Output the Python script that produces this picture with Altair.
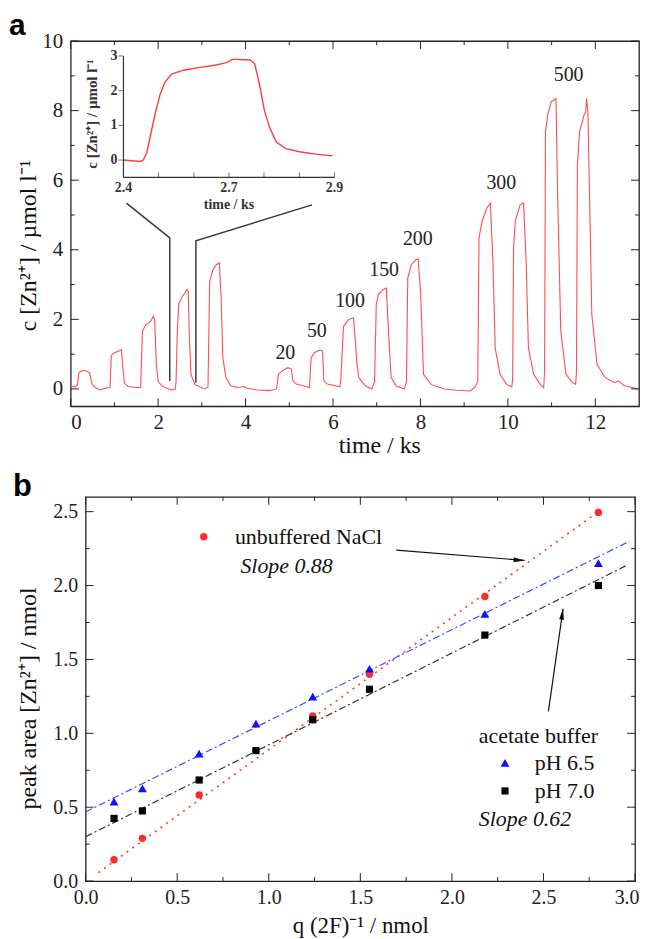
import altair as alt
import pandas as pd

FONT = "Liberation Serif"

# ---------------- panel a: detector trace ----------------
trace_t = [0.00, 0.11, 0.15, 0.19, 0.26, 0.37, 0.43, 0.49, 0.56, 0.67, 0.82, 0.90,
           0.93, 1.00, 1.12, 1.16, 1.20, 1.23, 1.31, 1.49, 1.60,
           1.64, 1.72, 1.83, 1.89, 1.92, 1.96, 2.00, 2.09, 2.20, 2.32, 2.39,
           2.41, 2.44, 2.47, 2.54, 2.62, 2.66, 2.69, 2.71, 2.75, 2.84, 2.95, 3.06,
           3.14, 3.18, 3.25, 3.33, 3.40, 3.44, 3.48, 3.55, 3.66, 3.81, 3.96, 4.04,
           4.26, 4.56, 4.71,
           4.75, 4.86, 4.97, 5.05, 5.08, 5.16, 5.31, 5.46,
           5.50, 5.57, 5.68, 5.76, 5.79, 5.87, 6.05, 6.16,
           6.18, 6.24, 6.36, 6.47, 6.55, 6.59, 6.74, 6.89,
           6.95, 6.99, 7.04, 7.15, 7.22, 7.27, 7.33, 7.44, 7.63,
           7.68, 7.71, 7.79, 7.90, 7.95, 8.01, 8.07, 8.24, 8.54, 8.84, 9.14, 9.25,
           9.31, 9.34, 9.41, 9.52, 9.60, 9.66, 9.71, 9.82, 9.97, 10.09,
           10.11, 10.13, 10.17, 10.28, 10.36, 10.42, 10.47, 10.59, 10.74, 10.82,
           10.84, 10.86, 10.91, 10.99, 11.10, 11.14, 11.21, 11.33, 11.48, 11.55,
           11.57, 11.59, 11.64, 11.74, 11.78, 11.80, 11.83, 11.87, 11.92, 12.04,
           12.22, 12.44, 12.52, 12.67, 12.99]
trace_c = [0.08, 0.06, 0.10, 0.47, 0.53, 0.51, 0.47, 0.13, 0.04, -0.03, 0.03, 0.04,
           0.97, 1.04, 1.10, 1.13, 0.50, 0.17, 0.07, 0.04, 0.04,
           1.66, 1.85, 1.94, 2.09, 1.99, 0.70, 0.22, 0.08, 0.02, -0.03, -0.02,
           0.20, 1.70, 2.45, 2.62, 2.78, 2.86, 2.80, 1.66, 0.42, 0.13, 0.06, 0.00,
           0.05, 3.09, 3.42, 3.57, 3.62, 2.62, 0.90, 0.33, 0.09, 0.04, 0.07, 0.02,
           -0.03, -0.05, 0.00,
           0.42, 0.54, 0.61, 0.57, 0.24, 0.14, 0.09, 0.04,
           0.90, 1.04, 1.11, 1.09, 0.24, 0.14, 0.09, 0.06,
           0.30, 1.80, 2.00, 2.04, 0.71, 0.33, 0.09, 0.00,
           0.20, 2.45, 2.72, 2.86, 2.90, 1.66, 0.33, 0.09, 0.00,
           0.20, 3.19, 3.57, 3.72, 3.73, 2.62, 0.42, 0.13, 0.00, -0.04, -0.06, 0.06,
           0.20, 4.34, 4.82, 5.20, 5.34, 3.57, 1.18, 0.42, 0.13, 0.06,
           0.30, 4.05, 4.82, 5.30, 5.34, 3.57, 1.18, 0.42, 0.13, 0.04,
           0.50, 7.39, 7.87, 8.25, 8.35, 5.47, 1.66, 0.42, 0.18, 0.13,
           0.50, 6.44, 7.39, 7.87, 7.96, 8.35, 7.96, 5.47, 2.14, 0.71,
           0.33, 0.18, 0.23, 0.09, 0.00]

peak_label_t = [4.91, 5.63, 6.39, 7.17, 7.94, 9.85, 11.39]
peak_label_c = [1.03, 1.66, 2.52, 3.43, 4.30, 5.93, 9.02]
peak_label_text = ["20", "50", "100", "150", "200", "300", "500"]

# zoom connector lines (main coordinates)
conn_t = [1.274, 2.266, 2.266, 5.52, 2.864, 2.864]
conn_c = [5.34, 4.34, 0.23, 5.29, 4.26, 0.18]
conn_id = [0, 0, 0, 1, 1, 1]
conn_order = [0, 1, 2, 0, 1, 2]

a_x_major = [0, 2, 4, 6, 8, 10, 12]
a_x_minor = [1, 3, 5, 7, 9, 11]
a_y_major = [0, 2, 4, 6, 8, 10]
a_y_minor = [1, 3, 5, 7, 9]

# inset trace
inset_t = [2.400, 2.420, 2.440, 2.447, 2.455, 2.463, 2.475, 2.487, 2.498, 2.514,
           2.542, 2.581, 2.620, 2.644, 2.660, 2.683, 2.699, 2.711, 2.722, 2.734,
           2.746, 2.762, 2.785, 2.817, 2.856, 2.895]
inset_c = [0.00, -0.02, -0.04, 0.00, 0.20, 0.65, 1.33, 1.90, 2.24, 2.48,
           2.59, 2.67, 2.74, 2.81, 2.91, 2.89, 2.89, 2.78, 2.20, 1.43,
           0.95, 0.52, 0.33, 0.24, 0.17, 0.12]
inset_x_range = [2.4, 2.9]
inset_y_range = [-0.5, 3.0]
inset_y_ticks = [0, 1, 2, 3]
inset_x_ticks = [2.4, 2.483, 2.567, 2.65, 2.733, 2.817, 2.9]
inset_x_label_pos = [2.4, 2.65, 2.9]
inset_x_label_text = ["2.4", "2.7", "2.9"]

# ---------------- panel b: calibration ----------------
b_q = [0.155, 0.31, 0.62, 0.93, 1.24, 1.55, 2.18, 2.80]
b_nacl = [0.144, 0.289, 0.583, 0.883, 1.118, 1.400, 1.926, 2.495]
b_ph65 = [0.538, 0.627, 0.863, 1.065, 1.249, 1.437, 1.809, 2.152]
b_ph70 = [0.424, 0.475, 0.684, 0.883, 1.092, 1.298, 1.665, 2.000]

fit_nacl_q = [0.07, 2.80]
fit_nacl_y = [0.057, 2.50]
fit_ph65_q = [0.0, 2.97]
fit_ph65_y = [0.468, 2.30]
fit_ph70_q = [0.0, 2.96]
fit_ph70_y = [0.30, 2.14]

arrow1_q = [1.696, 2.397]
arrow1_y = [2.24, 2.17]
arrow2_q = [2.527, 2.607]
arrow2_y = [1.148, 1.843]

b_x_major = [0.0, 0.5, 1.0, 1.5, 2.0, 2.5, 3.0]
b_x_minor = [0.25, 0.75, 1.25, 1.75, 2.25, 2.75]
b_y_major = [0.0, 0.5, 1.0, 1.5, 2.0, 2.5]
b_y_minor = [0.25, 0.75, 1.25, 1.75, 2.25]

# ---------------- layout ----------------
WA, HA = 571, 367
WB, HB = 552, 386

A_X = [0, 13]
A_Y = [-0.5, 10]
B_X = [0, 3]
B_Y = [0, 2.6]

# inset box in plot pixels: x 2.4 -> 53px, 2.9 -> 265px; y 3 -> 15px, -0.5 -> 137px
kx = 0.5 / (265 - 53)
ky = 3.5 / (137 - 15)
I_X = [2.4 - 53 * kx, 2.9 + (WA - 265) * kx]
I_Y = [-0.5 - (HA - 137) * ky, 3.0 + 15 * ky]

RED_TRACE = "#ff4d4d"
U = alt.Undefined


def sc(domain):
    return alt.Scale(domain=domain, nice=False, zero=False)


def X(f, domain, axis=U):
    return alt.X(f, type="quantitative", scale=sc(domain), axis=axis)


def Y(f, domain, axis=U):
    return alt.Y(f, type="quantitative", scale=sc(domain), axis=axis)


def frame_ticks(xmaj, xmin, ymaj, ymin, xdom, ydom, W, H):
    layers = []
    for vals, L in ((xmaj, 8), (xmin, 4)):
        d = pd.DataFrame({"v": vals})
        layers.append(alt.Chart(d).mark_rule(color="#222", strokeWidth=1).encode(
            x=X("v", xdom), y=alt.value(H), y2=alt.value(H - L)))
        layers.append(alt.Chart(d).mark_rule(color="#222", strokeWidth=1).encode(
            x=X("v", xdom), y=alt.value(0), y2=alt.value(L)))
    for vals, L in ((ymaj, 8), (ymin, 4)):
        d = pd.DataFrame({"v": vals})
        layers.append(alt.Chart(d).mark_rule(color="#222", strokeWidth=1).encode(
            y=Y("v", ydom), x=alt.value(0), x2=alt.value(L)))
        layers.append(alt.Chart(d).mark_rule(color="#222", strokeWidth=1).encode(
            y=Y("v", ydom), x=alt.value(W), x2=alt.value(W - L)))
    return layers


def panel_letter(s, dx, dy, size):
    return alt.Chart(pd.DataFrame({"s": [s]})).mark_text(
        font="Liberation Sans", fontSize=size, fontWeight="bold", color="#000",
        align="left", baseline="alphabetic").encode(
        x=alt.value(dx), y=alt.value(dy), text="s:N")


axis_common = dict(ticks=False, tickSize=0, domain=False, grid=False,
                   labelFont=FONT, titleFont=FONT, labelColor="#222", titleColor="#111",
                   titleFontWeight="normal")

# ---- panel a main group ----
trace_df = pd.DataFrame({"t": trace_t, "c": trace_c})
trace = alt.Chart(trace_df).mark_line(color=RED_TRACE, strokeWidth=1.1).encode(
    x=X("t", A_X, alt.Axis(values=a_x_major, format="d", labelFontSize=21, titleFontSize=24,
                           labelPadding=5, titlePadding=1, titleX=310, title="time / ks",
                           **axis_common)),
    y=Y("c", A_Y, alt.Axis(values=a_y_major, format="d", labelFontSize=21, titleFontSize=24,
                           labelPadding=8, titlePadding=1, titleY=205, title="c [Zn²⁺] / µmol l⁻¹",
                           **axis_common)),
)

conn_df = pd.DataFrame({"t": conn_t, "c": conn_c, "id": conn_id, "o": conn_order})
conn = alt.Chart(conn_df).mark_line(color="#3a3a3a", strokeWidth=1.5).encode(
    x=X("t", A_X), y=Y("c", A_Y), detail="id:N", order="o:Q")

plab_df = pd.DataFrame({"t": peak_label_t, "c": peak_label_c, "s": peak_label_text})
plab = alt.Chart(plab_df).mark_text(font=FONT, fontSize=20, color="#222", baseline="middle").encode(
    x=X("t", A_X), y=Y("c", A_Y), text="s:N")

main_a = alt.layer(trace, conn, plab, panel_letter("a", -62, -6, 30),
                   *frame_ticks(a_x_major, a_x_minor, a_y_major, a_y_minor, A_X, A_Y, WA, HA))

# ---- panel a inset group (own scales, no automatic axes) ----
N = None
inset_df = pd.DataFrame({"t": inset_t, "c": inset_c})
in_trace = alt.Chart(inset_df).mark_line(color="#ff3b3b", strokeWidth=1.4).encode(
    x=X("t", I_X, N), y=Y("c", I_Y, N))

in_left = alt.Chart(pd.DataFrame({"x": [inset_x_range[0]], "y": [inset_y_range[0]],
                                  "y2": [inset_y_range[1]]})).mark_rule(color="#333", strokeWidth=1.2).encode(
    x=X("x", I_X, N), y=Y("y", I_Y, N), y2="y2")
in_bottom = alt.Chart(pd.DataFrame({"y": [inset_y_range[0]], "x": [inset_x_range[0]],
                                    "x2": [inset_x_range[1]]})).mark_rule(color="#333", strokeWidth=1.2).encode(
    y=Y("y", I_Y, N), x=X("x", I_X, N), x2="x2")

in_yt_df = pd.DataFrame({"x": [inset_x_range[0]] * len(inset_y_ticks), "y": inset_y_ticks,
                         "s": [str(v) for v in inset_y_ticks]})
in_yticks = alt.Chart(in_yt_df).mark_tick(orient="horizontal", size=5, thickness=1, color="#333",
                                          xOffset=-2.5).encode(x=X("x", I_X, N), y=Y("y", I_Y, N))
in_ylabels = alt.Chart(in_yt_df).mark_text(font=FONT, fontSize=14, fontWeight="bold", color="#333",
                                           align="right", baseline="middle", xOffset=-6).encode(
    x=X("x", I_X, N), y=Y("y", I_Y, N), text="s:N")

in_xt_df = pd.DataFrame({"x": inset_x_ticks, "y": [inset_y_range[0]] * len(inset_x_ticks)})
in_xticks = alt.Chart(in_xt_df).mark_tick(orient="vertical", size=5, thickness=1, color="#333",
                                          yOffset=-2.5).encode(x=X("x", I_X, N), y=Y("y", I_Y, N))
in_xl_df = pd.DataFrame({"x": inset_x_label_pos, "y": [inset_y_range[0]] * 3, "s": inset_x_label_text})
in_xlabels = alt.Chart(in_xl_df).mark_text(font=FONT, fontSize=14, fontWeight="bold", color="#333",
                                           align="center", baseline="middle", yOffset=11).encode(
    x=X("x", I_X, N), y=Y("y", I_Y, N), text="s:N")

in_titles_df = pd.DataFrame({"x": [sum(inset_x_range) / 2], "y": [inset_y_range[0]], "s": ["time / ks"]})
in_xtitle = alt.Chart(in_titles_df).mark_text(font=FONT, fontSize=14, fontWeight="bold", color="#333",
                                              align="center", baseline="middle", yOffset=28).encode(
    x=X("x", I_X, N), y=Y("y", I_Y, N), text="s:N")
in_ytitle_df = pd.DataFrame({"x": [inset_x_range[0]], "y": [1.33], "s": ["c [Zn²⁺] / µmol l⁻¹"]})
in_ytitle = alt.Chart(in_ytitle_df).mark_text(font=FONT, fontSize=15, fontWeight="bold", color="#333",
                                              align="center", baseline="middle", angle=270,
                                              xOffset=-32).encode(
    x=X("x", I_X, N), y=Y("y", I_Y, N), text="s:N")

inset_group = alt.layer(in_trace, in_left, in_bottom, in_yticks, in_ylabels, in_xticks,
                        in_xlabels, in_xtitle, in_ytitle)

panel_a = alt.layer(main_a, inset_group).resolve_scale(x="independent", y="independent").properties(
    width=WA, height=HA)

# ---- panel b ----
pts_df = pd.DataFrame({"q": b_q, "nacl": b_nacl, "ph65": b_ph65, "ph70": b_ph70})

last_label = "datum.value >= 3"
pts_nacl = alt.Chart(pts_df).mark_point(shape="circle", filled=True, size=55, color="#ff2a2a", opacity=1).encode(
    x=X("q", B_X, alt.Axis(values=b_x_major, format=".1f", labelFontSize=20, titleFontSize=23,
                           labelPadding=7, titlePadding=7, title="q (2F)⁻¹ / nmol",
                           labelAlign={"condition": {"test": last_label, "value": "right"}, "value": "center"},
                           labelOffset={"condition": {"test": last_label, "value": 4}, "value": 0},
                           **axis_common)),
    y=Y("nacl", B_Y, alt.Axis(values=b_y_major, format=".1f", labelFontSize=20, titleFontSize=24,
                              labelPadding=8, titlePadding=12, titleY=202, title="peak area [Zn²⁺] / nmol",
                              **axis_common)))
pts_65 = alt.Chart(pts_df).mark_point(shape="triangle-up", filled=True, size=80, color="#1010ff", opacity=1).encode(
    x=X("q", B_X), y=Y("ph65", B_Y))
pts_70 = alt.Chart(pts_df).mark_point(shape="square", filled=True, size=52, color="#000", opacity=1).encode(
    x=X("q", B_X), y=Y("ph70", B_Y))


def fit_line(qs, ys, color, dash, w):
    d = pd.DataFrame({"q": qs, "y": ys})
    return alt.Chart(d).mark_line(color=color, strokeDash=dash, strokeWidth=w).encode(
        x=X("q", B_X), y=Y("y", B_Y))


fit1 = fit_line(fit_nacl_q, fit_nacl_y, "#ff3030", [2, 5], 1.6)
fit2 = fit_line(fit_ph65_q, fit_ph65_y, "#3050ff", [7, 3, 2, 3], 1.2)
fit3 = fit_line(fit_ph70_q, fit_ph70_y, "#333", [7, 3, 2, 3], 1.2)

ARROW = "M0,0 L-2,-0.45 L-2,0.45 Z"


def arrow(qs, ys, ang):
    d = pd.DataFrame({"q": qs, "y": ys})
    line = alt.Chart(d).mark_line(color="#111", strokeWidth=1.2).encode(x=X("q", B_X), y=Y("y", B_Y))
    head = alt.Chart(d.iloc[[-1]]).mark_point(shape=ARROW, filled=True, size=121, color="#111",
                                              angle=ang, opacity=1).encode(x=X("q", B_X), y=Y("y", B_Y))
    return [line, head]


leg_df = pd.DataFrame({"q": [0.645], "y": [2.33]})
leg_nacl = alt.Chart(leg_df).mark_point(shape="circle", filled=True, size=55, color="#ff2a2a", opacity=1).encode(
    x=X("q", B_X), y=Y("y", B_Y))
leg65 = alt.Chart(pd.DataFrame({"q": [2.29], "y": [0.80]})).mark_point(
    shape="triangle-up", filled=True, size=80, color="#1010ff", opacity=1).encode(x=X("q", B_X), y=Y("y", B_Y))
leg70 = alt.Chart(pd.DataFrame({"q": [2.29], "y": [0.61]})).mark_point(
    shape="square", filled=True, size=52, color="#000", opacity=1).encode(x=X("q", B_X), y=Y("y", B_Y))

ann_q = [0.815, 2.147, 2.453, 2.453]
ann_y = [2.33, 0.98, 0.80, 0.61]
ann_text = ["unbuffered NaCl", "acetate buffer", "pH 6.5", "pH 7.0"]
ann = alt.Chart(pd.DataFrame({"q": ann_q, "y": ann_y, "s": ann_text})).mark_text(
    font=FONT, fontSize=22, color="#111", align="left", baseline="middle").encode(
    x=X("q", B_X), y=Y("y", B_Y), text="s:N")
slope_q = [0.845, 2.147]
slope_y = [2.135, 0.42]
slope_text = ["Slope 0.88", "Slope 0.62"]
slopes = alt.Chart(pd.DataFrame({"q": slope_q, "y": slope_y, "s": slope_text})).mark_text(
    font=FONT, fontSize=22, fontStyle="italic", color="#111", align="left", baseline="middle").encode(
    x=X("q", B_X), y=Y("y", B_Y), text="s:N")

panel_b = alt.layer(
    pts_nacl, fit1, fit2, fit3, pts_65, pts_70, leg_nacl, leg65, leg70, ann, slopes,
    *arrow(arrow1_q, arrow1_y, 4), *arrow(arrow2_q, arrow2_y, 278),
    panel_letter("b", -73, -1, 31),
    *frame_ticks(b_x_major, b_x_minor, b_y_major, b_y_minor, B_X, B_Y, WB, HB)
).properties(width=WB, height=HB)

# a thin blank column shifts panel b's frame to the right of panel a's
spacer = alt.Chart(pd.DataFrame({"z": [0]})).mark_point(opacity=0).properties(
    width=15, height=HB, view=alt.ViewBackground(stroke=None))
row_b = alt.hconcat(spacer, panel_b, spacing=0, bounds="flush")

chart = alt.vconcat(panel_a, row_b, spacing=12).properties(padding=0).configure_view(
    stroke="#222", strokeWidth=1.3)

chart.save("out.html", embed_options={"renderer": "svg", "actions": False})
